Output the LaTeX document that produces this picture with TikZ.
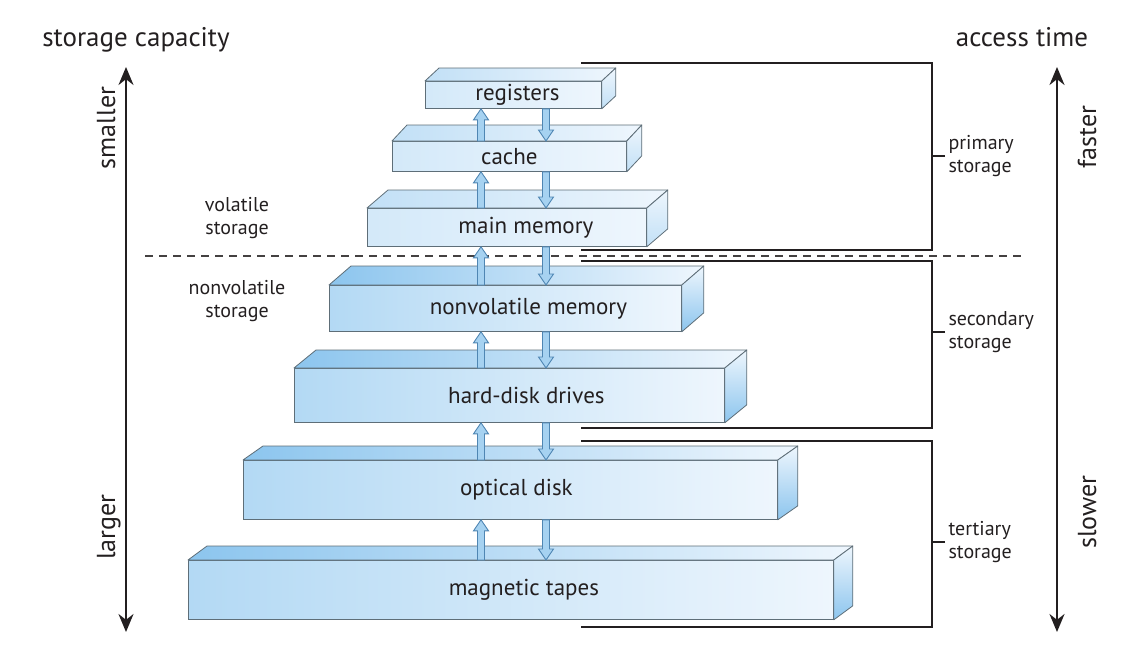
\documentclass[tikz,border=0pt]{standalone}
\usepackage{fontspec}
\setmainfont{PT Sans}
\usetikzlibrary{arrows.meta,calc}

\definecolor{edge}{HTML}{5E6E78}
\definecolor{boxblue}{HTML}{8CC5EE}
\definecolor{boxfront}{HTML}{B3D9F4}
\definecolor{boxpale}{HTML}{EEF6FD}
\definecolor{arrowfill}{HTML}{A6D2F1}
\definecolor{arrowedge}{HTML}{4F86B3}
\definecolor{inkcol}{HTML}{231F20}

\newcommand{\headfont}{\fontsize{27}{32}\selectfont}
\newcommand{\boxfont}{\fontsize{23}{27}\selectfont}
\newcommand{\sidefont}{\fontsize{20}{23}\selectfont}
\newcommand{\axisfont}{\fontsize{26}{30}\selectfont}

\tikzset{
  storebox/.style={draw=edge, line width=0.8pt, anchor=north west, inner sep=0pt,
    font=\boxfont, text=inkcol, left color=boxfront!#1!boxpale, right color=boxpale},
  nudge/.style={execute at begin node={\hspace*{#1pt}}},
  topface/.style={draw=edge, line width=0.8pt, line join=round,
    left color=boxblue!#1!boxpale, right color=boxpale},
  sideface/.style={draw=edge, line width=0.8pt, line join=round,
    top color=boxpale, bottom color=boxblue!#1!boxpale},
  fatarrow/.style={draw=arrowedge, fill=arrowfill, line width=0.9pt,
    to path={let \p1=(\tikztostart), \p2=(\tikztotarget),
      \p3=($(\tikztotarget)!11pt!(\tikztostart)$) in
      (\x1-3.5pt,\y1) -- (\x1-3.5pt,\y3) -- (\x1-7.5pt,\y3) -- (\x2,\y2)
      -- (\x1+7.5pt,\y3) -- (\x1+3.5pt,\y3) -- (\x1+3.5pt,\y1) -- cycle}},
  head/.style={font=\headfont, text=inkcol, anchor=base},
  axislabel/.style={font=\axisfont, text=inkcol, rotate=90, anchor=base},
  side/.style={font=\sidefont, text=inkcol, align=center},
  axis/.style={draw=inkcol, line width=2.2pt,
    arrows={Stealth[length=18pt,width=15pt]-Stealth[length=18pt,width=15pt]}},
  split/.style={draw=inkcol!85, line width=1.5pt, dash pattern=on 8pt off 6pt},
  bracket/.style={draw=inkcol, line width=1.8pt}
}

\begin{document}
\begin{tikzpicture}[x=1pt,y=1pt]
  \useasboundingbox (0,0) rectangle (1129,-664);

  % headings
  \node[head] (cap) at (136,-46) {storage capacity};
  \node[head] (acc) at (1022,-46) {access time};

  % capacity and speed axes
  \coordinate (captop) at (126,-67);
  \coordinate (capbot) at (126,-632);
  \coordinate (spdtop) at (1057,-67);
  \coordinate (spdbot) at (1057,-632);
  \draw[axis] (capbot) -- (captop);
  \draw[axis] (spdbot) -- (spdtop);
  \node[axislabel] (small) at (115,-128) {smaller};
  \node[axislabel] (large) at (115,-527) {larger};
  \node[axislabel] (fast) at (1096,-137) {faster};
  \node[axislabel] (slow) at (1096,-512) {slower};

  % volatile / nonvolatile split
  \coordinate (splitL) at (145,-256);
  \coordinate (splitR) at (1023,-256);
  \draw[split] (splitL) -- (splitR);
  \node[side] (vol) at (237,-218) {volatile\\storage};
  \node[side] (nonvol) at (237,-301) {nonvolatile\\storage};

  % storage levels (front faces)
  \node[storebox=45, minimum width=176pt, minimum height=27pt, nudge=8] (reg) at (425,-81) {registers};
  \node[storebox=45, minimum width=234pt, minimum height=30pt] (cache) at (392,-141) {cache};
  \node[storebox=45, minimum width=279pt, minimum height=38pt, nudge=38] (mainmem) at (367,-208) {main memory};
  \node[storebox=100, minimum width=352pt, minimum height=46pt, nudge=46] (nvm) at (329,-285) {nonvolatile memory};
  \node[storebox=100, minimum width=430pt, minimum height=54pt, nudge=34] (hdd) at (294,-368) {hard-disk drives};
  \node[storebox=100, minimum width=534pt, minimum height=59pt, nudge=12] (optical) at (243,-460) {optical disk};
  \node[storebox=100, minimum width=645pt, minimum height=59pt, nudge=26] (tapes) at (188,-560) {magnetic tapes};

  % top and side faces
  \foreach \n/\dx/\dy/\t in {reg/14/13/45, cache/15/16/45, mainmem/21/18/45,
      nvm/22/19/100, hdd/22/18/100, optical/20/14/100, tapes/19/14/100} {
    \draw[topface=\t] (\n.north west) -- ++(\dx,\dy) -- ($(\n.north east)+(\dx,\dy)$)
      -- (\n.north east) -- cycle;
    \draw[sideface=\t] (\n.north east) -- ++(\dx,\dy) -- ($(\n.south east)+(\dx,\dy)$)
      -- (\n.south east) -- cycle;
  }

  % transfers between levels
  \coordinate (upx) at (481,0);
  \coordinate (downx) at (546,0);
  \foreach \hi/\lo in {reg/cache, cache/mainmem, mainmem/nvm, nvm/hdd, hdd/optical, optical/tapes} {
    \draw[fatarrow] (upx |- \lo.north) to (upx |- \hi.south);
    \draw[fatarrow] (downx |- \hi.south) to (downx |- \lo.north);
  }

  % storage classes
  \draw[bracket] (581,-63) -| (932,-250) -- (581,-250);
  \draw[bracket] (581,-261) -| (932,-428) -- (581,-428);
  \draw[bracket] (581,-441) -| (932,-627) -- (581,-627);
  \node[side, align=left, anchor=west] (prim) at (945,-156) {primary\\storage};
  \node[side, align=left, anchor=west] (sec) at (945,-332) {secondary\\storage};
  \node[side, align=left, anchor=west] (ter) at (945,-542) {tertiary\\storage};
  \draw[bracket] (prim.west) -- ++(-13,0);
  \draw[bracket] (sec.west) -- ++(-13,0);
  \draw[bracket] (ter.west) -- ++(-13,0);
\end{tikzpicture}
\end{document}
